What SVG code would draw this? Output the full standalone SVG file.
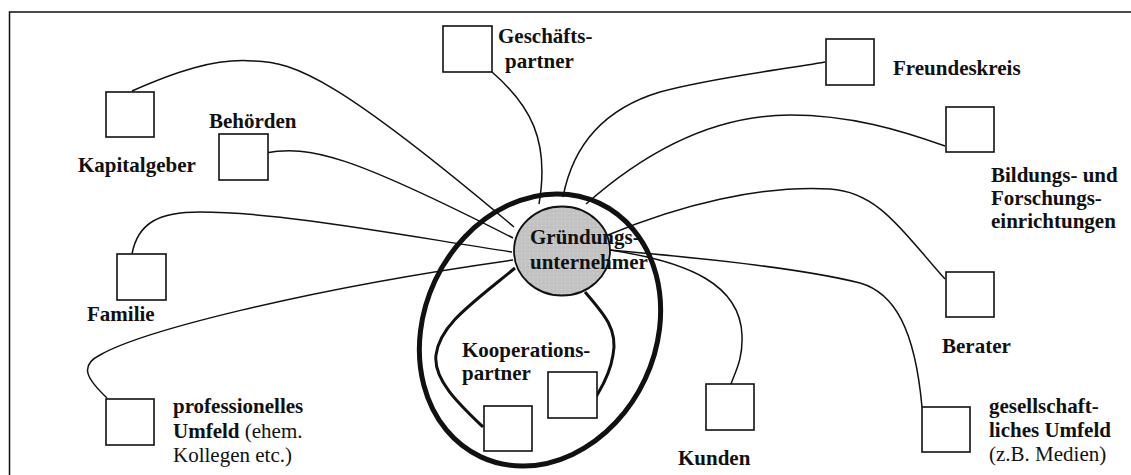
<svg xmlns="http://www.w3.org/2000/svg" width="1131" height="475" viewBox="0 0 1131 475">
<style>
.t{font-family:"Liberation Serif","Times New Roman",serif;font-size:21px;font-weight:bold;fill:#111}
.n{font-weight:normal}
.box{fill:#fff;stroke:#111;stroke-width:1.6}
.c{fill:none;stroke:#111;stroke-width:1.5}
.ck{fill:none;stroke:#111;stroke-width:3}
</style>
<defs>
<pattern id="dots" width="4" height="4" patternUnits="userSpaceOnUse">
<rect width="4" height="4" fill="#c2c2c2"/>
<rect x="1" y="1" width="1" height="1" fill="#dadada"/>
</pattern>
</defs>
<rect x="9.5" y="12" width="1200" height="600" fill="#fff" stroke="#111" stroke-width="1.5"/>

<g id="center">
<ellipse cx="562" cy="251" rx="48" ry="44.5" fill="url(#dots)" stroke="#111" stroke-width="1.8"/>
<text class="t" x="530" y="244">Gründungs-</text>
<text class="t" x="530" y="269">unternehmer</text>
</g>

<g id="connectors">
<path class="c" d="M132,91 C175,72 215,58 253,61 C295,61 342,82 514,227"/>
<path class="c" d="M265,153 C310,145 350,155 513,238"/>
<path class="c" d="M132,254 C138,222 160,212 200,212 C280,212 400,235 512,252"/>
<path class="c" d="M107,398 C88,380 78,366 100,355 C140,332 300,290 513,260"/>
<path class="c" d="M492,72 C530,105 550,140 539,204"/>
<path class="c" d="M563,197 C572,150 600,110 660,92 C710,78 780,70 825,62"/>
<path class="c" d="M586,204 C630,165 700,115 790,115 C850,115 900,130 945,146"/>
<path class="c" d="M608,235 C680,205 760,185 830,189 C880,192 905,235 945,279"/>
<path class="c" d="M610,250 C700,258 800,268 860,283 C895,293 915,330 922,407"/>
<path class="c" d="M610,250 C690,262 740,285 742,335 C743,360 735,372 731,384"/>
<path class="ck" d="M515,268 C470,305 440,325 436,355 C433,380 460,405 483,427"/>
<path class="ck" d="M585,292 C605,315 618,330 613,355 C610,375 600,390 596,397"/>
</g>

<g id="kooperation-group">
<ellipse cx="540" cy="330" rx="116" ry="140" transform="rotate(25 540 330)" fill="none" stroke="#111" stroke-width="5"/>
</g>

<g id="kapitalgeber">
<rect class="box" x="106" y="92" width="48" height="45"/>
<text class="t" x="78" y="172">Kapitalgeber</text>
</g>
<g id="behoerden">
<rect class="box" x="219" y="134" width="49" height="46"/>
<text class="t" x="209" y="128">Behörden</text>
</g>
<g id="geschaeftspartner">
<rect class="box" x="443" y="26" width="49" height="46"/>
<text class="t" x="498" y="43">Geschäfts-</text>
<text class="t" x="505" y="68">partner</text>
</g>
<g id="freundeskreis">
<rect class="box" x="826" y="39" width="48" height="46"/>
<text class="t" x="893" y="75">Freundeskreis</text>
</g>
<g id="bildung">
<rect class="box" x="946" y="107" width="48" height="45"/>
<text class="t" x="991" y="182">Bildungs- und</text>
<text class="t" x="991" y="205">Forschungs-</text>
<text class="t" x="991" y="228">einrichtungen</text>
</g>
<g id="familie">
<rect class="box" x="117" y="254" width="49" height="46"/>
<text class="t" x="87" y="321">Familie</text>
</g>
<g id="berater">
<rect class="box" x="946" y="272" width="48" height="45"/>
<text class="t" x="942" y="353">Berater</text>
</g>
<g id="kooperationspartner">
<rect class="box" x="484" y="406" width="48" height="45"/>
<rect class="box" x="548" y="372" width="49" height="46"/>
<text class="t" x="462" y="357">Kooperations-</text>
<text class="t" x="462" y="380">partner</text>
</g>
<g id="professionell">
<rect class="box" x="106" y="399" width="48" height="46"/>
<text class="t" x="173" y="413">professionelles</text>
<text class="t" x="173" y="438">Umfeld<tspan class="n"> (ehem.</tspan></text>
<text class="t n" x="173" y="462">Kollegen etc.)</text>
</g>
<g id="kunden">
<rect class="box" x="706" y="384" width="48" height="46"/>
<text class="t" x="678" y="465">Kunden</text>
</g>
<g id="gesellschaft">
<rect class="box" x="922" y="407" width="48" height="45"/>
<text class="t" x="989" y="413">gesellschaft-</text>
<text class="t" x="989" y="437">liches Umfeld</text>
<text class="t n" x="989" y="461">(z.B. Medien)</text>
</g>
</svg>
